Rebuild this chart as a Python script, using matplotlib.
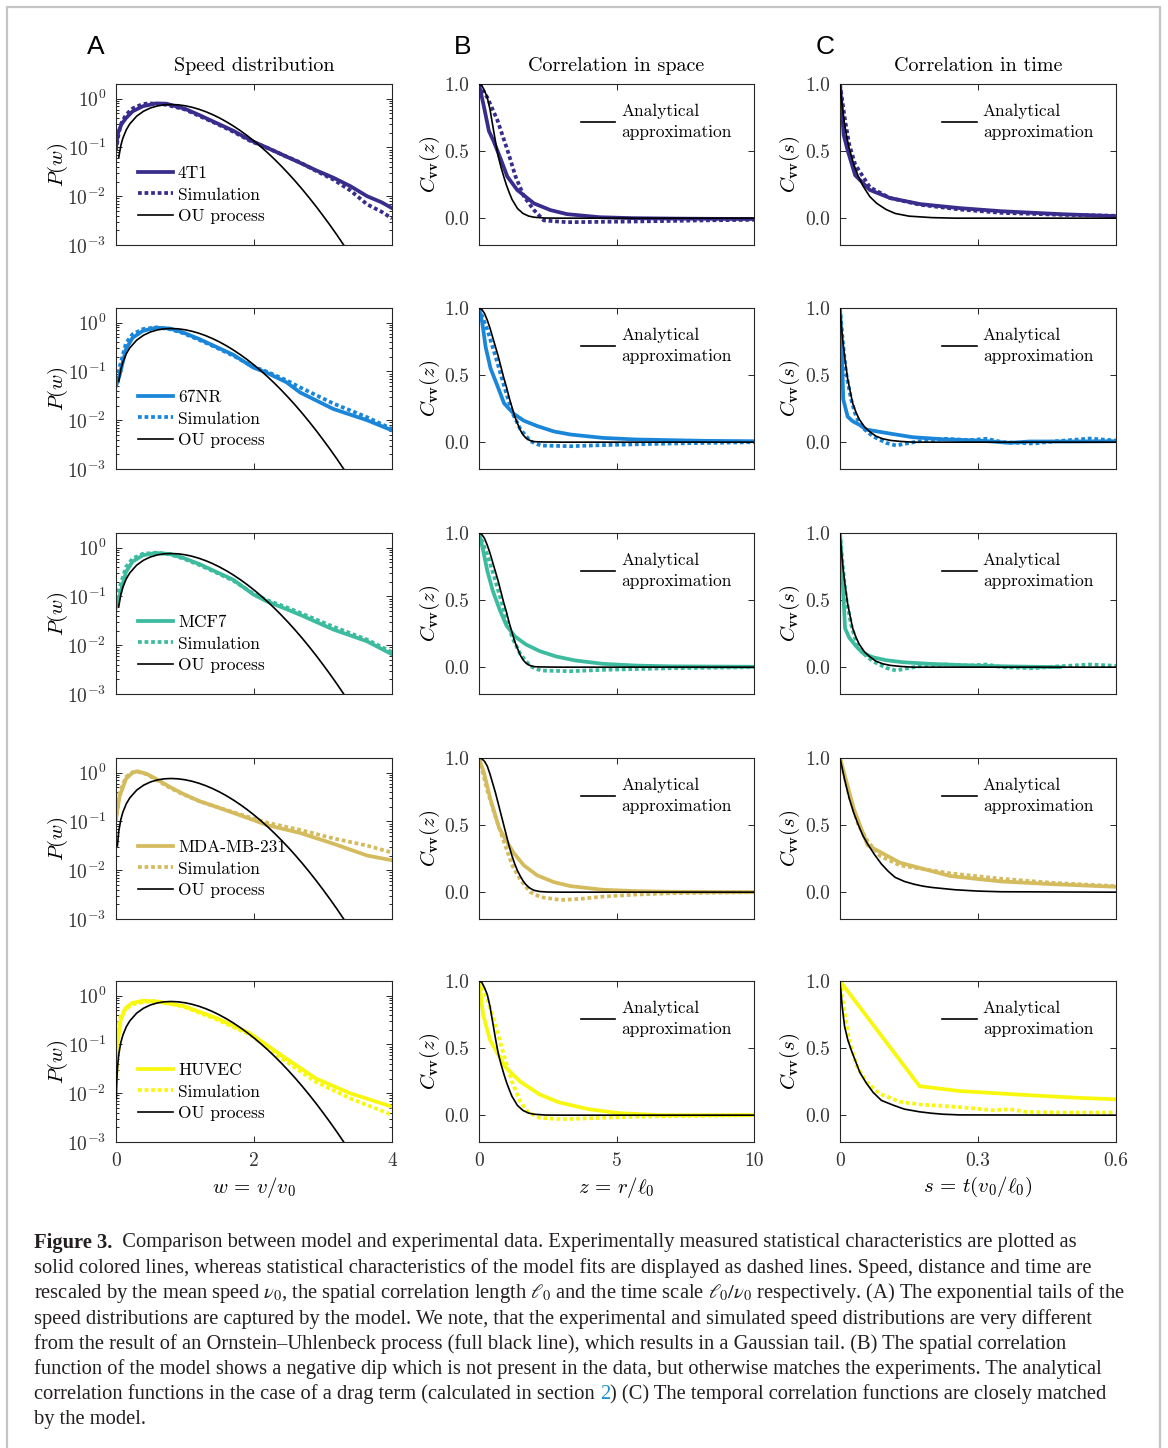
import matplotlib
matplotlib.use('Agg')
import matplotlib.pyplot as plt
from matplotlib.patches import Rectangle
from matplotlib.lines import Line2D
from matplotlib.ticker import LogLocator, NullFormatter

plt.rcParams['font.family'] = 'serif'
plt.rcParams['font.serif'] = ['cmr10']
plt.rcParams['mathtext.fontset'] = 'cm'
plt.rcParams['axes.formatter.use_mathtext'] = True
plt.rcParams['axes.unicode_minus'] = False

# ---------------- data ----------------
cells = ['4T1', '67NR', 'MCF7', 'MDA-MB-231', 'HUVEC']
colors = ['#382d8c', '#1a86d9', '#3cbb9f', '#d4bb5e', '#f7f80e']

# OU process (Rayleigh) curve
ou_w = [0.005, 0.01, 0.02, 0.04, 0.07, 0.1, 0.15, 0.2, 0.3, 0.4, 0.5, 0.6, 0.7, 0.8, 0.9, 1.0,
        1.1, 1.2, 1.3, 1.4, 1.5, 1.6, 1.7, 1.8, 1.9, 2.0, 2.1, 2.2, 2.3, 2.4, 2.5, 2.6, 2.7,
        2.8, 2.9, 3.0, 3.1, 3.2, 3.3, 3.4]
ou_p = [0.00785, 0.0157, 0.0314, 0.0628, 0.1095, 0.1558, 0.2315, 0.3044, 0.4391, 0.5541, 0.6455,
        0.7103, 0.7484, 0.7600, 0.7483, 0.7161, 0.668, 0.6083, 0.5416, 0.4718, 0.4025, 0.3365,
        0.2759, 0.2219, 0.1753, 0.1358, 0.1033, 0.0773, 0.0567, 0.0409, 0.0290, 0.0202, 0.01383,
        0.0093, 0.00616, 0.0040, 0.002567, 0.00162, 0.00100, 0.00061]
ou_start = [3, 3, 3, 2, 0]

# Speed distributions: experiment
spd_exp_w = [
    [0, 0.03, 0.08, 0.145, 0.24, 0.39, 0.58, 0.73, 1.0, 1.21, 1.45, 1.70, 1.95, 2.18, 2.42, 2.66, 2.9, 3.15, 3.4, 3.64, 3.85, 4.0],
    [0, 0.05, 0.145, 0.24, 0.39, 0.58, 0.78, 0.97, 1.21, 1.45, 1.70, 1.99, 2.18, 2.47, 2.67, 3.15, 3.64, 4.0],
    [0, 0.05, 0.145, 0.24, 0.39, 0.58, 0.78, 0.97, 1.21, 1.45, 1.70, 1.99, 2.18, 2.47, 2.67, 3.15, 3.64, 4.0],
    [0, 0.05, 0.145, 0.24, 0.31, 0.44, 0.58, 0.78, 0.97, 1.21, 1.45, 1.70, 1.99, 2.18, 2.67, 3.15, 3.64, 4.0],
    [0, 0.02, 0.07, 0.145, 0.24, 0.39, 0.58, 0.97, 1.45, 1.94, 2.42, 2.9, 3.39, 4.0],
]
spd_exp_p = [
    [0.1, 0.2, 0.3, 0.4, 0.55, 0.7, 0.8, 0.79, 0.62, 0.46, 0.32, 0.22, 0.14, 0.1, 0.07, 0.049, 0.034, 0.024, 0.016, 0.01, 0.0075, 0.0057],
    [0.051, 0.081, 0.29, 0.49, 0.68, 0.79, 0.76, 0.63, 0.46, 0.32, 0.22, 0.12, 0.095, 0.06, 0.037, 0.017, 0.010, 0.0062],
    [0.06, 0.1, 0.32, 0.52, 0.70, 0.78, 0.74, 0.62, 0.46, 0.32, 0.22, 0.11, 0.08, 0.055, 0.042, 0.021, 0.012, 0.0065],
    [0.115, 0.32, 0.75, 1.0, 1.07, 0.95, 0.75, 0.51, 0.37, 0.26, 0.2, 0.15, 0.107, 0.085, 0.058, 0.035, 0.02, 0.016],
    [0.016, 0.1, 0.33, 0.57, 0.71, 0.79, 0.76, 0.62, 0.35, 0.17, 0.057, 0.02, 0.01, 0.0053],
]
# Speed distributions: simulation
spd_sim_w = [
    [0, 0.04, 0.08, 0.145, 0.24, 0.39, 0.5, 0.73, 1.0, 1.21, 1.45, 1.70, 1.95, 2.18, 2.42, 2.66, 2.9, 3.15, 3.4, 3.64, 3.85, 4.0],
    [0, 0.05, 0.145, 0.24, 0.39, 0.58, 0.78, 0.97, 1.21, 1.45, 1.70, 1.99, 2.18, 2.47, 2.67, 3.15, 3.64, 4.0],
    [0, 0.05, 0.145, 0.24, 0.39, 0.58, 0.78, 0.97, 1.21, 1.45, 1.70, 1.99, 2.18, 2.47, 2.67, 3.15, 3.64, 4.0],
    [0, 0.05, 0.145, 0.24, 0.31, 0.44, 0.58, 0.78, 0.97, 1.21, 1.45, 1.70, 1.99, 2.18, 2.67, 3.15, 3.64, 4.0],
    [0, 0.02, 0.07, 0.145, 0.24, 0.39, 0.58, 0.97, 1.45, 1.94, 2.42, 2.9, 3.39, 4.0],
]
spd_sim_p = [
    [0.085, 0.2, 0.32, 0.47, 0.63, 0.78, 0.8, 0.75, 0.6, 0.44, 0.31, 0.21, 0.135, 0.1, 0.07, 0.05, 0.033, 0.022, 0.013, 0.0068, 0.0048, 0.0035],
    [0.05, 0.12, 0.38, 0.58, 0.74, 0.80, 0.74, 0.61, 0.44, 0.31, 0.21, 0.125, 0.1, 0.066, 0.047, 0.022, 0.0115, 0.0066],
    [0.09, 0.15, 0.40, 0.60, 0.75, 0.79, 0.73, 0.60, 0.44, 0.31, 0.21, 0.115, 0.085, 0.06, 0.046, 0.024, 0.013, 0.0072],
    [0.1, 0.38, 0.82, 1.02, 1.05, 0.93, 0.72, 0.49, 0.36, 0.26, 0.2, 0.155, 0.115, 0.095, 0.067, 0.045, 0.032, 0.023],
    [0.1, 0.2, 0.4, 0.55, 0.66, 0.74, 0.78, 0.6, 0.33, 0.16, 0.049, 0.017, 0.0079, 0.0036],
]

# Spatial correlation: analytical approximation
zr_fast = [0, 0.1, 0.2, 0.3, 0.4, 0.5, 0.6, 0.7, 0.8, 0.9, 1.0, 1.1, 1.2, 1.4, 1.6, 1.8, 2.0, 2.4, 3.0, 10]
zr_slow = [0, 0.1, 0.2, 0.3, 0.4, 0.5, 0.6, 0.7, 0.8, 0.9, 1.0, 1.1, 1.2, 1.3, 1.4, 1.5, 1.6, 1.7, 1.8, 1.9, 2.0, 2.2, 2.5, 3.0, 10]
sp_an_z = [zr_fast, zr_slow, zr_slow, zr_slow, zr_fast]
sp_an_c = [
    [1.0, 0.99, 0.95, 0.9, 0.81, 0.69, 0.57, 0.46, 0.38, 0.31, 0.245, 0.19, 0.14, 0.072, 0.035, 0.016, 0.007, 0.001, 0.0, 0.0],
    [1.0, 0.99, 0.96, 0.91, 0.85, 0.78, 0.71, 0.64, 0.56, 0.48, 0.41, 0.33, 0.26, 0.19, 0.14, 0.09, 0.055, 0.032, 0.018, 0.009, 0.004, 0.002, 0.001, 0.0, 0.0],
    [1.0, 0.99, 0.96, 0.91, 0.85, 0.78, 0.71, 0.64, 0.56, 0.48, 0.41, 0.33, 0.26, 0.19, 0.14, 0.09, 0.055, 0.032, 0.018, 0.009, 0.004, 0.002, 0.001, 0.0, 0.0],
    [1.0, 0.995, 0.975, 0.94, 0.88, 0.81, 0.74, 0.66, 0.58, 0.5, 0.42, 0.34, 0.27, 0.21, 0.16, 0.12, 0.085, 0.058, 0.038, 0.024, 0.014, 0.005, 0.001, 0.0, 0.0],
    [1.0, 0.99, 0.95, 0.9, 0.81, 0.69, 0.57, 0.46, 0.38, 0.31, 0.245, 0.19, 0.14, 0.072, 0.035, 0.016, 0.007, 0.001, 0.0, 0.0],
]
# Spatial correlation: experiment
sp_exp_z = [
    [0, 0.18, 0.36, 0.54, 0.79, 1.03, 1.39, 2.0, 2.6, 3.2, 4.4, 5.6, 7.0, 8.5, 10],
    [0, 0.12, 0.24, 0.42, 0.67, 0.91, 1.27, 1.63, 2.12, 2.72, 3.33, 4.5, 5.7, 6.95, 8.2, 10],
    [0, 0.12, 0.3, 0.5, 0.75, 1.0, 1.3, 1.7, 2.2, 2.8, 3.5, 4.5, 5.7, 7.0, 10],
    [0, 0.18, 0.42, 0.73, 0.97, 1.27, 1.63, 2.12, 2.72, 3.33, 4.5, 5.7, 6.95, 10],
    [0, 0.15, 0.4, 0.95, 1.5, 2.2, 2.9, 4.0, 5.1, 6.6, 10],
]
sp_exp_c = [
    [1.0, 0.83, 0.65, 0.57, 0.44, 0.31, 0.21, 0.11, 0.06, 0.03, 0.007, 0.0, -0.003, -0.005, -0.006],
    [1.0, 0.89, 0.71, 0.55, 0.42, 0.29, 0.21, 0.16, 0.12, 0.08, 0.057, 0.032, 0.02, 0.015, 0.01, 0.007],
    [1.0, 0.9, 0.72, 0.57, 0.43, 0.31, 0.23, 0.17, 0.12, 0.08, 0.05, 0.025, 0.012, 0.006, 0.003],
    [1.0, 0.89, 0.69, 0.48, 0.39, 0.29, 0.2, 0.125, 0.075, 0.045, 0.018, 0.008, 0.003, 0.0],
    [1.0, 0.75, 0.56, 0.36, 0.25, 0.155, 0.096, 0.044, 0.015, 0.0, 0.0],
]
# Spatial correlation: simulation
sp_sim_z = [
    [0, 0.3, 0.67, 1.03, 1.33, 1.64, 2.0, 2.36, 3.2, 5.6, 8.0, 10],
    [0, 0.3, 0.6, 0.91, 1.21, 1.51, 1.87, 2.24, 3.33, 4.5, 6.95, 10],
    [0, 0.3, 0.6, 0.91, 1.21, 1.51, 1.87, 2.24, 3.33, 4.5, 6.95, 10],
    [0, 0.3, 0.6, 0.91, 1.21, 1.51, 1.87, 2.24, 2.97, 3.69, 4.5, 5.7, 6.95, 10],
    [0, 0.3, 0.6, 0.9, 1.2, 1.5, 1.8, 2.2, 3.0, 4.5, 6.0, 10],
]
sp_sim_c = [
    [1.0, 0.9, 0.73, 0.51, 0.31, 0.16, 0.06, -0.017, -0.03, -0.025, -0.017, -0.012],
    [1.0, 0.84, 0.64, 0.42, 0.22, 0.094, 0.007, -0.025, -0.03, -0.022, -0.01, 0.0],
    [1.0, 0.84, 0.64, 0.42, 0.22, 0.094, 0.007, -0.025, -0.03, -0.02, -0.008, 0.0],
    [1.0, 0.76, 0.56, 0.375, 0.2, 0.09, 0.0, -0.037, -0.058, -0.05, -0.033, -0.018, -0.008, 0.0],
    [1.0, 0.87, 0.67, 0.45, 0.25, 0.1, 0.02, -0.02, -0.03, -0.02, -0.01, 0.0],
]

# Temporal correlation: analytical approximation
tm_an_s = [
    [0, 0.005, 0.01, 0.015, 0.02, 0.03, 0.04, 0.05, 0.065, 0.08, 0.1, 0.12, 0.15, 0.2, 0.25, 0.6],
    [0, 0.003, 0.006, 0.01, 0.0167, 0.0275, 0.035, 0.042, 0.053, 0.064, 0.078, 0.093, 0.11, 0.13, 0.158, 0.2, 0.6],
    [0, 0.003, 0.006, 0.01, 0.0167, 0.0275, 0.035, 0.042, 0.053, 0.064, 0.078, 0.093, 0.11, 0.13, 0.158, 0.2, 0.6],
    [0, 0.01, 0.02, 0.03, 0.04, 0.05, 0.06, 0.075, 0.09, 0.105, 0.12, 0.14, 0.16, 0.18, 0.2, 0.25, 0.3, 0.35, 0.6],
    [0, 0.005, 0.01, 0.017, 0.025, 0.034, 0.043, 0.057, 0.072, 0.09, 0.116, 0.14, 0.173, 0.2, 0.224, 0.26, 0.6],
]
tm_an_c = [
    [1.0, 0.83, 0.7, 0.6, 0.52, 0.4, 0.31, 0.24, 0.16, 0.11, 0.065, 0.035, 0.015, 0.004, 0.0, 0.0],
    [1.0, 0.87, 0.76, 0.64, 0.47, 0.29, 0.22, 0.17, 0.115, 0.08, 0.045, 0.025, 0.013, 0.006, 0.0, 0.0, 0.0],
    [1.0, 0.87, 0.76, 0.64, 0.47, 0.29, 0.22, 0.17, 0.115, 0.08, 0.045, 0.025, 0.013, 0.006, 0.0, 0.0, 0.0],
    [1.0, 0.84, 0.7, 0.59, 0.5, 0.42, 0.36, 0.28, 0.21, 0.155, 0.11, 0.08, 0.06, 0.045, 0.035, 0.018, 0.008, 0.003, 0.0],
    [1.0, 0.8, 0.66, 0.56, 0.48, 0.4, 0.32, 0.24, 0.17, 0.11, 0.074, 0.045, 0.025, 0.014, 0.007, 0.002, 0.0],
]
# Temporal correlation: experiment
tm_exp_s = [
    [0, 0.008, 0.017, 0.033, 0.065, 0.109, 0.174, 0.26, 0.35, 0.48, 0.6],
    [0, 0.0044, 0.007, 0.0167, 0.0275, 0.042, 0.057, 0.078, 0.107, 0.158, 0.231, 0.303, 0.369, 0.412, 0.5, 0.6],
    [0, 0.0058, 0.011, 0.02, 0.035, 0.049, 0.071, 0.1, 0.136, 0.194, 0.267, 0.34, 0.478],
    [0, 0.03, 0.06, 0.13, 0.24, 0.35, 0.46, 0.6],
    [0, 0.173, 0.26, 0.405, 0.513, 0.6],
]
tm_exp_c = [
    [1.0, 0.62, 0.5, 0.32, 0.21, 0.15, 0.105, 0.075, 0.052, 0.03, 0.015],
    [1.0, 0.64, 0.32, 0.19, 0.156, 0.13, 0.094, 0.082, 0.065, 0.037, 0.02, 0.012, -0.005, 0.005, 0.005, 0.007],
    [1.0, 0.64, 0.29, 0.22, 0.156, 0.107, 0.074, 0.052, 0.037, 0.025, 0.015, 0.007, 0.0],
    [1.0, 0.62, 0.35, 0.22, 0.12, 0.08, 0.06, 0.04],
    [1.0, 0.216, 0.18, 0.15, 0.13, 0.118],
]
# Temporal correlation: simulation
tm_sim_s = [
    [0, 0.01, 0.02, 0.033, 0.065, 0.109, 0.174, 0.26, 0.35, 0.48, 0.6],
    [0, 0.0058, 0.013, 0.024, 0.035, 0.049, 0.071, 0.1, 0.122, 0.144, 0.173, 0.231, 0.282, 0.318, 0.354, 0.42, 0.47, 0.543, 0.6],
    [0, 0.0058, 0.013, 0.024, 0.035, 0.049, 0.071, 0.1, 0.122, 0.144, 0.173, 0.231, 0.282, 0.318, 0.354, 0.42, 0.47, 0.543, 0.6],
    [0, 0.02, 0.04, 0.06, 0.087, 0.13, 0.24, 0.35, 0.46, 0.6],
    [0, 0.01, 0.021, 0.036, 0.057, 0.086, 0.13, 0.173, 0.26, 0.332, 0.369, 0.405, 0.477, 0.6],
]
tm_sim_c = [
    [1.0, 0.75, 0.55, 0.4, 0.23, 0.15, 0.1, 0.065, 0.04, 0.025, 0.018],
    [1.0, 0.76, 0.52, 0.32, 0.19, 0.107, 0.045, -0.005, -0.025, -0.01, 0.007, 0.025, 0.015, 0.025, 0.0, -0.01, 0.007, 0.027, 0.012],
    [1.0, 0.76, 0.52, 0.32, 0.19, 0.107, 0.045, -0.005, -0.025, -0.01, 0.007, 0.02, 0.012, 0.02, 0.0, -0.008, 0.005, 0.02, 0.01],
    [1.0, 0.72, 0.5, 0.38, 0.27, 0.2, 0.14, 0.1, 0.07, 0.045],
    [1.0, 0.76, 0.54, 0.37, 0.25, 0.16, 0.1, 0.08, 0.06, 0.037, 0.044, 0.025, 0.02, 0.02],
]

col_titles = ['Speed distribution', 'Correlation in space', 'Correlation in time']
panel_letters = ['A', 'B', 'C']
xlabels = [r'$w\,=\,v/v_0$', r'$z\,=\,r/\ell_0$', r'$s\,=\,t(v_0/\ell_0)$']
ylabels = [r'$P(w)$', r'$C_{\mathbf{vv}}(z)$', r'$C_{\mathbf{vv}}(s)$']

caption = [
    [("Figure 3.", 'bold', '#231f20'), ("  Comparison between model and experimental data. Experimentally measured statistical characteristics are plotted as", 'normal', '#231f20')],
    [("solid colored lines, whereas statistical characteristics of the model fits are displayed as dashed lines. Speed, distance and time are", 'normal', '#231f20')],
    [(r"rescaled by the mean speed $\nu_0$, the spatial correlation length $\ell_0$ and the time scale $\ell_0/\nu_0$ respectively. (A) The exponential tails of the", 'normal', '#231f20')],
    [("speed distributions are captured by the model. We note, that the experimental and simulated speed distributions are very different", 'normal', '#231f20')],
    [("from the result of an Ornstein\u2013Uhlenbeck process (full black line), which results in a Gaussian tail. (B) The spatial correlation", 'normal', '#231f20')],
    [("function of the model shows a negative dip which is not present in the data, but otherwise matches the experiments. The analytical", 'normal', '#231f20')],
    [("correlation functions in the case of a drag term (calculated in section ", 'normal', '#231f20'), ("2", 'normal', '#1b8fd2'), (") (C) The temporal correlation functions are closely matched", 'normal', '#231f20')],
    [("by the model.", 'normal', '#231f20')],
]

# ---------------- layout ----------------
W, H = 1168, 1448
fig = plt.figure(figsize=(W / 100, H / 100), dpi=100)
col_left = [116, 479, 840]
col_w = [276, 275, 276]
row_top = [84, 308, 533, 758, 981]
row_h = 161
axc = '#262626'
lw_data = 2.7
lw_black = 1.2
dot = (0, (1.0, 0.75))


def make_ax(c, r):
    ax = fig.add_axes([col_left[c] / W, 1 - (row_top[r] + row_h) / H, col_w[c] / W, row_h / H])
    for sp in ax.spines.values():
        sp.set_color(axc)
        sp.set_linewidth(0.8)
    ax.tick_params(which='both', direction='in', top=True, right=True, color=axc,
                   labelcolor='#333333', labelsize=14, width=0.7)
    ax.tick_params(which='major', length=4, pad=7)
    ax.tick_params(which='minor', length=2)
    return ax


def corr_legend(ax):
    leg = ax.legend([Line2D([], [], color='k', lw=lw_black)], ['Analytical\napproximation'],
                    loc='upper left', bbox_to_anchor=(0.37, 0.88), frameon=False, fontsize=12.5,
                    handlelength=2.0, handletextpad=0.35, borderpad=0, borderaxespad=0)
    for t in leg.get_texts():
        t.set_linespacing(1.5)


for r in range(5):
    col = colors[r]
    # ---- A: speed distribution ----
    ax = make_ax(0, r)
    ax.plot(ou_w[ou_start[r]:], ou_p[ou_start[r]:], color='k', lw=lw_black, zorder=3)
    ax.plot(spd_exp_w[r], spd_exp_p[r], color=col, lw=lw_data, zorder=2, solid_joinstyle='round')
    ax.plot(spd_sim_w[r], spd_sim_p[r], color=col, lw=lw_data, ls=dot, zorder=2)
    ax.set_yscale('log')
    ax.set_ylim(1e-3, 2.0)
    ax.set_xlim(0, 4)
    ax.set_xticks([0, 2, 4])
    ax.set_yticks([1e-3, 1e-2, 1e-1, 1e0])
    ax.yaxis.set_minor_locator(LogLocator(base=10, subs=[2, 3, 4, 5, 6, 7, 8, 9]))
    ax.yaxis.set_minor_formatter(NullFormatter())
    ax.set_ylabel(ylabels[0], fontsize=15, va='center')
    ax.yaxis.set_label_coords(-0.21, 0.5)
    handles = [Line2D([], [], color=col, lw=lw_data),
               Line2D([], [], color=col, lw=lw_data, ls=dot),
               Line2D([], [], color='k', lw=lw_black)]
    ax.legend(handles, [cells[r], 'Simulation', 'OU process'], loc='upper left',
              bbox_to_anchor=(0.08, 0.494), frameon=False, fontsize=12.5,
              handlelength=2.0, handletextpad=0.3, labelspacing=0.37,
              borderpad=0, borderaxespad=0)
    if r == 4:
        ax.set_xticklabels(['0', '2', '4'])
        ax.set_xlabel(xlabels[0], fontsize=15, va='center')
        ax.xaxis.set_label_coords(0.5, -(1188 - 1143) / row_h)
    else:
        ax.set_xticklabels([])
    if r == 0:
        ax.text(0.5, 1 + 18 / row_h, col_titles[0], transform=ax.transAxes,
                ha='center', va='center', fontsize=14.5)

    # ---- B: spatial correlation ----
    ax = make_ax(1, r)
    ax.plot(sp_an_z[r], sp_an_c[r], color='k', lw=lw_black, zorder=3)
    ax.plot(sp_exp_z[r], sp_exp_c[r], color=col, lw=lw_data, zorder=2, solid_joinstyle='round')
    ax.plot(sp_sim_z[r], sp_sim_c[r], color=col, lw=lw_data, ls=dot, zorder=2)
    ax.set_xlim(0, 10)
    ax.set_ylim(-0.2, 1.0)
    ax.set_xticks([0, 5, 10])
    ax.set_yticks([0.0, 0.5, 1.0])
    ax.set_yticklabels(['0.0', '0.5', '1.0'])
    ax.set_ylabel(ylabels[1], fontsize=15, va='center')
    ax.yaxis.set_label_coords(-0.178, 0.5)
    corr_legend(ax)
    if r == 4:
        ax.set_xticklabels(['0', '5', '10'])
        ax.set_xlabel(xlabels[1], fontsize=15, va='center')
        ax.xaxis.set_label_coords(0.5, -(1188 - 1143) / row_h)
    else:
        ax.set_xticklabels([])
    if r == 0:
        ax.text(0.5, 1 + 18 / row_h, col_titles[1], transform=ax.transAxes,
                ha='center', va='center', fontsize=14.5)

    # ---- C: temporal correlation ----
    ax = make_ax(2, r)
    ax.plot(tm_an_s[r], tm_an_c[r], color='k', lw=lw_black, zorder=3)
    ax.plot(tm_exp_s[r], tm_exp_c[r], color=col, lw=lw_data, zorder=2, solid_joinstyle='round')
    ax.plot(tm_sim_s[r], tm_sim_c[r], color=col, lw=lw_data, ls=dot, zorder=2)
    ax.set_xlim(0, 0.6)
    ax.set_ylim(-0.2, 1.0)
    ax.set_xticks([0, 0.3, 0.6])
    ax.set_yticks([0.0, 0.5, 1.0])
    ax.set_yticklabels(['0.0', '0.5', '1.0'])
    ax.set_ylabel(ylabels[2], fontsize=15, va='center')
    ax.yaxis.set_label_coords(-0.181, 0.5)
    corr_legend(ax)
    if r == 4:
        ax.set_xticklabels(['0', '0.3', '0.6'])
        ax.set_xlabel(xlabels[2], fontsize=15, va='center')
        ax.xaxis.set_label_coords(0.5, -(1188 - 1143) / row_h)
    else:
        ax.set_xticklabels([])
    if r == 0:
        ax.text(0.5, 1 + 18 / row_h, col_titles[2], transform=ax.transAxes,
                ha='center', va='center', fontsize=14.5)

# panel letters
for x, letter in zip([96, 463, 825], panel_letters):
    fig.text(x / W, 1 - 47 / H, letter, family='Liberation Sans', fontsize=19,
             ha='center', va='center', color='k')

# caption
renderer = fig.canvas.get_renderer()
cap_fs = 14.75
for i, pieces in enumerate(caption):
    x = 34 / W
    y = 1 - (1243 + i * 25.2) / H
    for txt, weight, color in pieces:
        t = fig.text(x, y, txt, fontsize=cap_fs, family='Liberation Serif', weight=weight,
                     color=color, va='center', ha='left', math_fontfamily='stix')
        bb = t.get_window_extent(renderer)
        x += bb.width / W

# outer frame
fig.add_artist(Rectangle((7 / W, -0.02), (1160 - 7) / W, 1.02 - 7 / H, transform=fig.transFigure,
                         fill=False, ec='#c4c4c4', lw=1.6))

fig.savefig('out.png', dpi=100)
